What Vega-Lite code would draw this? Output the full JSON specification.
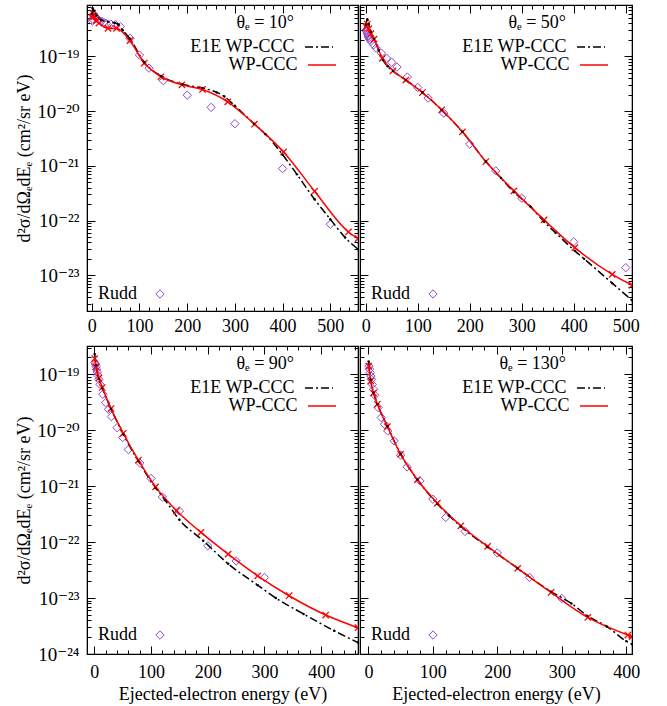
{
  "$schema": "https://vega.github.io/schema/vega-lite/v6.json",
  "padding": {"left": 15, "top": -3, "right": 0, "bottom": 0},
  "config": {
    "font": "Liberation Serif, DejaVu Serif",
    "view": {"stroke": "black", "strokeWidth": 1.2},
    "axis": {"labelFont": "Liberation Serif, DejaVu Serif", "titleFont": "Liberation Serif, DejaVu Serif", "labelFontSize": 18, "titleFontSize": 18, "titleFontWeight": "normal", "domainColor": "black", "tickColor": "black", "labelColor": "black", "titleColor": "black", "grid": false, "labelFlush": false, "labelOverlap": false, "labelBound": false, "tickWidth": 1},
    "axisLeft": {"labelFontSize": 19},
    "legend": {"labelFont": "Liberation Serif, DejaVu Serif", "titleFont": "Liberation Serif, DejaVu Serif", "labelFontSize": 18, "titleFontSize": 18, "titleFontWeight": "normal", "labelColor": "black", "titleColor": "black", "padding": 0}
  },
  "datasets": {
    "p10": [
      {"series": "Rudd", "E": 1, "v": 4.4e-19}, {"series": "Rudd", "E": 2, "v": 4.8e-19}, {"series": "Rudd", "E": 3, "v": 5.6e-19}, {"series": "Rudd", "E": 4, "v": 5.9e-19}, {"series": "Rudd", "E": 6, "v": 5.5e-19}, {"series": "Rudd", "E": 8, "v": 5.2e-19}, {"series": "Rudd", "E": 10, "v": 5.0e-19}, {"series": "Rudd", "E": 15, "v": 4.6e-19}, {"series": "Rudd", "E": 20, "v": 4.4e-19}, {"series": "Rudd", "E": 25, "v": 4.2e-19}, {"series": "Rudd", "E": 30, "v": 4.0e-19}, {"series": "Rudd", "E": 40, "v": 3.9e-19}, {"series": "Rudd", "E": 50, "v": 3.8e-19}, {"series": "Rudd", "E": 60, "v": 3.5e-19}, {"series": "Rudd", "E": 80, "v": 2.15e-19}, {"series": "Rudd", "E": 100, "v": 1.06e-19}, {"series": "Rudd", "E": 120, "v": 6.1e-20}, {"series": "Rudd", "E": 150, "v": 3.6e-20}, {"series": "Rudd", "E": 200, "v": 1.96e-20}, {"series": "Rudd", "E": 250, "v": 1.17e-20}, {"series": "Rudd", "E": 300, "v": 5.9e-21}, {"series": "Rudd", "E": 400, "v": 8.9e-22}, {"series": "Rudd", "E": 500, "v": 8.6e-23},
      {"series": "WP-CCC", "E": 0.5, "v": 5.2e-19}, {"series": "WP-CCC", "E": 2, "v": 6.2e-19}, {"series": "WP-CCC", "E": 5, "v": 5.4e-19}, {"series": "WP-CCC", "E": 10, "v": 4.5e-19}, {"series": "WP-CCC", "E": 15, "v": 4.07e-19}, {"series": "WP-CCC", "E": 34, "v": 3.25e-19}, {"series": "WP-CCC", "E": 52, "v": 3.25e-19}, {"series": "WP-CCC", "E": 80, "v": 1.94e-19}, {"series": "WP-CCC", "E": 110, "v": 7.55e-20}, {"series": "WP-CCC", "E": 145, "v": 4.25e-20}, {"series": "WP-CCC", "E": 189, "v": 3.03e-20}, {"series": "WP-CCC", "E": 232, "v": 2.49e-20}, {"series": "WP-CCC", "E": 285, "v": 1.48e-20}, {"series": "WP-CCC", "E": 341, "v": 5.78e-21}, {"series": "WP-CCC", "E": 402, "v": 1.8e-21}, {"series": "WP-CCC", "E": 467, "v": 3.44e-22}, {"series": "WP-CCC", "E": 538, "v": 6.2e-23}, {"series": "WP-CCC", "E": 558, "v": 4.7e-23},
      {"series": "E1E WP-CCC", "E": 0.5, "v": 6.0e-19}, {"series": "E1E WP-CCC", "E": 2, "v": 7.6e-19}, {"series": "E1E WP-CCC", "E": 5, "v": 6.8e-19}, {"series": "E1E WP-CCC", "E": 10, "v": 5.6e-19}, {"series": "E1E WP-CCC", "E": 20, "v": 4.6e-19}, {"series": "E1E WP-CCC", "E": 34, "v": 4.3e-19}, {"series": "E1E WP-CCC", "E": 48, "v": 4.1e-19}, {"series": "E1E WP-CCC", "E": 56, "v": 3.8e-19}, {"series": "E1E WP-CCC", "E": 65, "v": 3.0e-19}, {"series": "E1E WP-CCC", "E": 80, "v": 2.1e-19}, {"series": "E1E WP-CCC", "E": 110, "v": 7.8e-20}, {"series": "E1E WP-CCC", "E": 145, "v": 4.4e-20}, {"series": "E1E WP-CCC", "E": 190, "v": 3.1e-20}, {"series": "E1E WP-CCC", "E": 232, "v": 2.65e-20}, {"series": "E1E WP-CCC", "E": 262, "v": 2.2e-20}, {"series": "E1E WP-CCC", "E": 278, "v": 1.85e-20}, {"series": "E1E WP-CCC", "E": 300, "v": 1.25e-20}, {"series": "E1E WP-CCC", "E": 340, "v": 5.9e-21}, {"series": "E1E WP-CCC", "E": 364, "v": 3.8e-21}, {"series": "E1E WP-CCC", "E": 400, "v": 1.6e-21}, {"series": "E1E WP-CCC", "E": 430, "v": 7.0e-22}, {"series": "E1E WP-CCC", "E": 467, "v": 2.45e-22}, {"series": "E1E WP-CCC", "E": 500, "v": 1.06e-22}, {"series": "E1E WP-CCC", "E": 531, "v": 4.9e-23}, {"series": "E1E WP-CCC", "E": 558, "v": 3.0e-23}
    ],
    "p50": [
      {"series": "Rudd", "E": 1, "v": 3.0e-19}, {"series": "Rudd", "E": 2, "v": 2.85e-19}, {"series": "Rudd", "E": 3, "v": 2.7e-19}, {"series": "Rudd", "E": 4, "v": 2.5e-19}, {"series": "Rudd", "E": 5, "v": 2.35e-19}, {"series": "Rudd", "E": 6, "v": 2.2e-19}, {"series": "Rudd", "E": 8, "v": 2.05e-19}, {"series": "Rudd", "E": 10, "v": 1.88e-19}, {"series": "Rudd", "E": 15, "v": 1.63e-19}, {"series": "Rudd", "E": 20, "v": 1.42e-19}, {"series": "Rudd", "E": 30, "v": 1.15e-19}, {"series": "Rudd", "E": 40, "v": 9.3e-20}, {"series": "Rudd", "E": 50, "v": 7.8e-20}, {"series": "Rudd", "E": 60, "v": 6.4e-20}, {"series": "Rudd", "E": 80, "v": 4.2e-20}, {"series": "Rudd", "E": 100, "v": 2.7e-20}, {"series": "Rudd", "E": 120, "v": 1.73e-20}, {"series": "Rudd", "E": 150, "v": 9.2e-21}, {"series": "Rudd", "E": 200, "v": 2.5e-21}, {"series": "Rudd", "E": 250, "v": 8.1e-22}, {"series": "Rudd", "E": 300, "v": 2.57e-22}, {"series": "Rudd", "E": 400, "v": 4.1e-23}, {"series": "Rudd", "E": 500, "v": 1.38e-23},
      {"series": "WP-CCC", "E": 0.5, "v": 3.5e-19}, {"series": "WP-CCC", "E": 3, "v": 3.9e-19}, {"series": "WP-CCC", "E": 6, "v": 3.2e-19}, {"series": "WP-CCC", "E": 10, "v": 2.6e-19}, {"series": "WP-CCC", "E": 16, "v": 2.07e-19}, {"series": "WP-CCC", "E": 32, "v": 9.2e-20}, {"series": "WP-CCC", "E": 52.6, "v": 5.47e-20}, {"series": "WP-CCC", "E": 77, "v": 3.69e-20}, {"series": "WP-CCC", "E": 109, "v": 2.19e-20}, {"series": "WP-CCC", "E": 146, "v": 1.06e-20}, {"series": "WP-CCC", "E": 186, "v": 4.18e-21}, {"series": "WP-CCC", "E": 231, "v": 1.2e-21}, {"series": "WP-CCC", "E": 285, "v": 3.49e-22}, {"series": "WP-CCC", "E": 343, "v": 1.03e-22}, {"series": "WP-CCC", "E": 402, "v": 3.2e-23}, {"series": "WP-CCC", "E": 474, "v": 1.04e-23}, {"series": "WP-CCC", "E": 512, "v": 6.6e-24},
      {"series": "E1E WP-CCC", "E": 0.5, "v": 3.8e-19}, {"series": "E1E WP-CCC", "E": 3, "v": 4.8e-19}, {"series": "E1E WP-CCC", "E": 6, "v": 3.9e-19}, {"series": "E1E WP-CCC", "E": 10, "v": 2.8e-19}, {"series": "E1E WP-CCC", "E": 16, "v": 2.1e-19}, {"series": "E1E WP-CCC", "E": 25, "v": 1.3e-19}, {"series": "E1E WP-CCC", "E": 33, "v": 8.6e-20}, {"series": "E1E WP-CCC", "E": 42, "v": 6.6e-20}, {"series": "E1E WP-CCC", "E": 52.6, "v": 5.4e-20}, {"series": "E1E WP-CCC", "E": 77, "v": 3.7e-20}, {"series": "E1E WP-CCC", "E": 109, "v": 2.2e-20}, {"series": "E1E WP-CCC", "E": 146, "v": 1.05e-20}, {"series": "E1E WP-CCC", "E": 186, "v": 4.2e-21}, {"series": "E1E WP-CCC", "E": 231, "v": 1.2e-21}, {"series": "E1E WP-CCC", "E": 260, "v": 6.0e-22}, {"series": "E1E WP-CCC", "E": 285, "v": 3.3e-22}, {"series": "E1E WP-CCC", "E": 317, "v": 1.8e-22}, {"series": "E1E WP-CCC", "E": 343, "v": 9.5e-23}, {"series": "E1E WP-CCC", "E": 365, "v": 6.0e-23}, {"series": "E1E WP-CCC", "E": 402, "v": 2.8e-23}, {"series": "E1E WP-CCC", "E": 420, "v": 2.0e-23}, {"series": "E1E WP-CCC", "E": 474, "v": 7.2e-24}, {"series": "E1E WP-CCC", "E": 512, "v": 3.5e-24}
    ],
    "p90": [
      {"series": "Rudd", "E": 1, "v": 1.6e-19}, {"series": "Rudd", "E": 2, "v": 1.51e-19}, {"series": "Rudd", "E": 3, "v": 1.37e-19}, {"series": "Rudd", "E": 4, "v": 1.23e-19}, {"series": "Rudd", "E": 5, "v": 1.1e-19}, {"series": "Rudd", "E": 6, "v": 9.6e-20}, {"series": "Rudd", "E": 8, "v": 8.1e-20}, {"series": "Rudd", "E": 10, "v": 6.6e-20}, {"series": "Rudd", "E": 15, "v": 4.4e-20}, {"series": "Rudd", "E": 20, "v": 3.1e-20}, {"series": "Rudd", "E": 25, "v": 2.37e-20}, {"series": "Rudd", "E": 30, "v": 1.75e-20}, {"series": "Rudd", "E": 40, "v": 1.11e-20}, {"series": "Rudd", "E": 50, "v": 7.4e-21}, {"series": "Rudd", "E": 60, "v": 4.5e-21}, {"series": "Rudd", "E": 80, "v": 2.6e-21}, {"series": "Rudd", "E": 100, "v": 1.37e-21}, {"series": "Rudd", "E": 120, "v": 6.4e-22}, {"series": "Rudd", "E": 150, "v": 3.6e-22}, {"series": "Rudd", "E": 200, "v": 8.6e-23}, {"series": "Rudd", "E": 250, "v": 4.6e-23}, {"series": "Rudd", "E": 300, "v": 2.33e-23},
      {"series": "WP-CCC", "E": 0.5, "v": 1.9e-19}, {"series": "WP-CCC", "E": 3, "v": 1.35e-19}, {"series": "WP-CCC", "E": 8, "v": 8.6e-20}, {"series": "WP-CCC", "E": 14, "v": 5.8e-20}, {"series": "WP-CCC", "E": 29.4, "v": 2.44e-20}, {"series": "WP-CCC", "E": 51, "v": 8.8e-21}, {"series": "WP-CCC", "E": 77.6, "v": 2.91e-21}, {"series": "WP-CCC", "E": 108, "v": 9.7e-22}, {"series": "WP-CCC", "E": 145, "v": 3.63e-22}, {"series": "WP-CCC", "E": 188, "v": 1.49e-22}, {"series": "WP-CCC", "E": 236, "v": 6.1e-23}, {"series": "WP-CCC", "E": 288, "v": 2.5e-23}, {"series": "WP-CCC", "E": 343.5, "v": 1.1e-23}, {"series": "WP-CCC", "E": 408, "v": 4.97e-24}, {"series": "WP-CCC", "E": 465, "v": 2.95e-24},
      {"series": "E1E WP-CCC", "E": 0.5, "v": 2.3e-19}, {"series": "E1E WP-CCC", "E": 3, "v": 1.45e-19}, {"series": "E1E WP-CCC", "E": 8, "v": 8.2e-20}, {"series": "E1E WP-CCC", "E": 14, "v": 5.6e-20}, {"series": "E1E WP-CCC", "E": 29.4, "v": 2.4e-20}, {"series": "E1E WP-CCC", "E": 51, "v": 8.5e-21}, {"series": "E1E WP-CCC", "E": 77.6, "v": 2.8e-21}, {"series": "E1E WP-CCC", "E": 108, "v": 9.3e-22}, {"series": "E1E WP-CCC", "E": 125, "v": 5.6e-22}, {"series": "E1E WP-CCC", "E": 150, "v": 2.5e-22}, {"series": "E1E WP-CCC", "E": 192, "v": 1.06e-22}, {"series": "E1E WP-CCC", "E": 236, "v": 4.1e-23}, {"series": "E1E WP-CCC", "E": 288, "v": 1.7e-23}, {"series": "E1E WP-CCC", "E": 320, "v": 1.0e-23}, {"series": "E1E WP-CCC", "E": 369, "v": 5.2e-24}, {"series": "E1E WP-CCC", "E": 423, "v": 2.6e-24}, {"series": "E1E WP-CCC", "E": 465, "v": 1.6e-24}
    ],
    "p130": [
      {"series": "Rudd", "E": 1, "v": 1.4e-19}, {"series": "Rudd", "E": 2, "v": 1.23e-19}, {"series": "Rudd", "E": 3, "v": 1.07e-19}, {"series": "Rudd", "E": 4, "v": 9.3e-20}, {"series": "Rudd", "E": 5, "v": 8.1e-20}, {"series": "Rudd", "E": 6, "v": 6.6e-20}, {"series": "Rudd", "E": 8, "v": 5.4e-20}, {"series": "Rudd", "E": 10, "v": 4.2e-20}, {"series": "Rudd", "E": 15, "v": 2.54e-20}, {"series": "Rudd", "E": 20, "v": 1.68e-20}, {"series": "Rudd", "E": 25, "v": 1.28e-20}, {"series": "Rudd", "E": 30, "v": 9.7e-21}, {"series": "Rudd", "E": 40, "v": 6.45e-21}, {"series": "Rudd", "E": 50, "v": 3.58e-21}, {"series": "Rudd", "E": 60, "v": 2.21e-21}, {"series": "Rudd", "E": 80, "v": 1.24e-21}, {"series": "Rudd", "E": 100, "v": 5.86e-22}, {"series": "Rudd", "E": 120, "v": 2.76e-22}, {"series": "Rudd", "E": 150, "v": 1.55e-22}, {"series": "Rudd", "E": 200, "v": 6.4e-23}, {"series": "Rudd", "E": 250, "v": 2.34e-23}, {"series": "Rudd", "E": 300, "v": 9.86e-24},
      {"series": "WP-CCC", "E": 0.5, "v": 1.4e-19}, {"series": "WP-CCC", "E": 3.6, "v": 7.6e-20}, {"series": "WP-CCC", "E": 8, "v": 4.6e-20}, {"series": "WP-CCC", "E": 14, "v": 2.91e-20}, {"series": "WP-CCC", "E": 29.5, "v": 1.16e-20}, {"series": "WP-CCC", "E": 50, "v": 3.73e-21}, {"series": "WP-CCC", "E": 76, "v": 1.3e-21}, {"series": "WP-CCC", "E": 107, "v": 4.97e-22}, {"series": "WP-CCC", "E": 143.5, "v": 1.96e-22}, {"series": "WP-CCC", "E": 185, "v": 8.4e-23}, {"series": "WP-CCC", "E": 231.6, "v": 3.39e-23}, {"series": "WP-CCC", "E": 283.4, "v": 1.26e-23}, {"series": "WP-CCC", "E": 340.4, "v": 4.5e-24}, {"series": "WP-CCC", "E": 402.6, "v": 2.18e-24}, {"series": "WP-CCC", "E": 409, "v": 2.05e-24},
      {"series": "E1E WP-CCC", "E": 0.5, "v": 1.7e-19}, {"series": "E1E WP-CCC", "E": 3.6, "v": 8.0e-20}, {"series": "E1E WP-CCC", "E": 8, "v": 4.7e-20}, {"series": "E1E WP-CCC", "E": 14, "v": 2.95e-20}, {"series": "E1E WP-CCC", "E": 29.5, "v": 1.18e-20}, {"series": "E1E WP-CCC", "E": 50, "v": 3.75e-21}, {"series": "E1E WP-CCC", "E": 76, "v": 1.32e-21}, {"series": "E1E WP-CCC", "E": 107, "v": 4.8e-22}, {"series": "E1E WP-CCC", "E": 125, "v": 3.0e-22}, {"series": "E1E WP-CCC", "E": 143.5, "v": 1.9e-22}, {"series": "E1E WP-CCC", "E": 185, "v": 8.2e-23}, {"series": "E1E WP-CCC", "E": 231.6, "v": 3.4e-23}, {"series": "E1E WP-CCC", "E": 283.4, "v": 1.3e-23}, {"series": "E1E WP-CCC", "E": 315, "v": 8.0e-24}, {"series": "E1E WP-CCC", "E": 340, "v": 4.8e-24}, {"series": "E1E WP-CCC", "E": 370, "v": 3.1e-24}, {"series": "E1E WP-CCC", "E": 400, "v": 1.7e-24}, {"series": "E1E WP-CCC", "E": 409, "v": 1.5e-24}
    ]
  },
  "resolve": {"scale": {"x": "independent", "y": "independent", "color": "independent", "strokeDash": "independent", "shape": "independent"}, "axis": {"x": "independent", "y": "independent"}, "legend": {"color": "independent", "strokeDash": "independent", "shape": "independent"}},
  "spacing": -3,
  "vconcat": [
    {
      "spacing": -2,
      "resolve": {"scale": {"x": "independent", "y": "independent", "color": "independent", "strokeDash": "independent", "shape": "independent"}, "axis": {"x": "independent", "y": "independent"}, "legend": {"color": "independent", "strokeDash": "independent", "shape": "independent"}},
      "hconcat": [
        {
          "width": 271, "height": 306,
          "data": {"name": "p10"},
          "resolve": {"axis": {"x": "independent", "y": "independent"}},
          "layer": [
            {
              "transform": [{"filter": "datum.series == 'Rudd'"}],
              "mark": {"type": "point", "shape": "diamond", "filled": false, "size": 70, "strokeWidth": 1, "color": "#9048c8", "opacity": 1},
              "encoding": {
                "x": {"field": "E", "type": "quantitative", "scale": {"domain": [-10, 558], "nice": false, "zero": false},
                  "axis": {"orient": "bottom", "title": null, "values": [0,20,40,60,80,100,120,140,160,180,200,220,240,260,280,300,320,340,360,380,400,420,440,460,480,500,520,540], "format": "d", "labelExpr": "datum.value % 100 == 0 ? datum.label : ''", "tickSize": {"condition": {"test": "datum.value % 100 == 0", "value": -8}, "value": -4}, "labelPadding": 14}},
                "y": {"field": "v", "type": "quantitative", "scale": {"type": "log", "domain": [2.23e-24, 8.7e-19], "nice": false},
                  "axis": {"orient": "left", "title": "d²σ/dΩₑdEₑ (cm²/sr eV)", "values": [3e-24,4e-24,5e-24,6e-24,7e-24,8e-24,9e-24,1e-23,2e-23,3e-23,4e-23,5e-23,6e-23,7e-23,8e-23,9e-23,1e-22,2e-22,3e-22,4e-22,5e-22,6e-22,7e-22,8e-22,9e-22,1e-21,2e-21,3e-21,4e-21,5e-21,6e-21,7e-21,8e-21,9e-21,1e-20,2e-20,3e-20,4e-20,5e-20,6e-20,7e-20,8e-20,9e-20,1e-19,2e-19,3e-19,4e-19,5e-19,6e-19,7e-19,8e-19],
                    "labelExpr": "abs(log(datum.value)/LN10-round(log(datum.value)/LN10))>0.001 ? '' : round(log(datum.value)/LN10)==-19 ? '10⁻¹⁹' : round(log(datum.value)/LN10)==-20 ? '10⁻²⁰' : round(log(datum.value)/LN10)==-21 ? '10⁻²¹' : round(log(datum.value)/LN10)==-22 ? '10⁻²²' : round(log(datum.value)/LN10)==-23 ? '10⁻²³' : '10⁻²⁴'",
                    "tickSize": {"condition": {"test": "abs(log(datum.value)/LN10-round(log(datum.value)/LN10))<0.001", "value": -8}, "value": -4}, "labelPadding": 16, "titlePadding": 3}},
                "shape": {"field": "series", "type": "nominal", "scale": {"domain": ["Rudd"], "range": ["diamond"]},
                  "legend": {"title": "Rudd", "orient": "none", "legendX": 11, "legendY": 280, "titleOrient": "left", "labelExpr": "''", "symbolType": "diamond", "symbolSize": 70, "symbolStrokeColor": "#9048c8", "symbolFillColor": "transparent", "symbolStrokeWidth": 1, "titlePadding": 13}}
              }
            },
            {
              "transform": [{"filter": "datum.series == 'E1E WP-CCC'"}],
              "mark": {"type": "line", "interpolate": "monotone", "clip": true, "strokeWidth": 1.5, "color": "black"},
              "encoding": {
                "x": {"field": "E", "type": "quantitative", "axis": {"orient": "top", "title": null, "labels": false, "values": [0,20,40,60,80,100,120,140,160,180,200,220,240,260,280,300,320,340,360,380,400,420,440,460,480,500,520,540], "tickSize": {"condition": {"test": "datum.value % 100 == 0", "value": -8}, "value": -4}}},
                "y": {"field": "v", "type": "quantitative", "axis": {"orient": "right", "title": null, "labels": false, "values": [3e-24,4e-24,5e-24,6e-24,7e-24,8e-24,9e-24,1e-23,2e-23,3e-23,4e-23,5e-23,6e-23,7e-23,8e-23,9e-23,1e-22,2e-22,3e-22,4e-22,5e-22,6e-22,7e-22,8e-22,9e-22,1e-21,2e-21,3e-21,4e-21,5e-21,6e-21,7e-21,8e-21,9e-21,1e-20,2e-20,3e-20,4e-20,5e-20,6e-20,7e-20,8e-20,9e-20,1e-19,2e-19,3e-19,4e-19,5e-19,6e-19,7e-19,8e-19], "tickSize": {"condition": {"test": "abs(log(datum.value)/LN10-round(log(datum.value)/LN10))<0.001", "value": -8}, "value": -4}}},
                "strokeDash": {"field": "series", "type": "nominal", "scale": {"domain": ["E1E WP-CCC"], "range": [[8, 3, 2, 3]]},
                  "legend": {"title": "θₑ = 10°", "orient": "none", "legendX": 149, "legendY": 9, "labelAlign": "right", "labelOffset": -39.5, "symbolOffset": 10, "symbolType": "stroke", "symbolSize": 784, "symbolStrokeWidth": 1.5, "symbolStrokeColor": "black", "titleAlign": "right", "titleAnchor": "start", "titlePadding": 0}}
              }
            },
            {
              "transform": [{"filter": "datum.series == 'WP-CCC'"}],
              "mark": {"type": "line", "interpolate": "monotone", "clip": true, "strokeWidth": 1.5},
              "encoding": {
                "x": {"field": "E", "type": "quantitative", "axis": null},
                "y": {"field": "v", "type": "quantitative", "axis": null},
                "color": {"field": "series", "type": "nominal", "scale": {"domain": ["WP-CCC"], "range": ["red"]},
                  "legend": {"title": null, "orient": "none", "legendX": 210, "legendY": 45, "labelAlign": "right", "labelOffset": -39.5, "symbolOffset": 10, "symbolType": "stroke", "symbolSize": 784, "symbolStrokeWidth": 1.5}}
              }
            },
            {
              "transform": [{"filter": "datum.series == 'WP-CCC'"}],
              "mark": {"type": "point", "shape": "M-1,-1L1,1M-1,1L1,-1", "filled": false, "size": 40, "strokeWidth": 1.3, "color": "red", "opacity": 1, "clip": true},
              "encoding": {"x": {"field": "E", "type": "quantitative", "axis": null}, "y": {"field": "v", "type": "quantitative", "axis": null}}
            },
            {
              "transform": [{"filter": "datum.series == 'E1E WP-CCC'"}],
              "mark": {"type": "point", "shape": "circle", "filled": true, "size": 6, "color": "black", "opacity": 1, "clip": true},
              "encoding": {"x": {"field": "E", "type": "quantitative", "axis": null}, "y": {"field": "v", "type": "quantitative", "axis": null}}
            }
          ]
        },
        {
          "width": 272, "height": 306,
          "data": {"name": "p50"},
          "resolve": {"axis": {"x": "independent", "y": "independent"}},
          "layer": [
            {
              "transform": [{"filter": "datum.series == 'Rudd'"}],
              "mark": {"type": "point", "shape": "diamond", "filled": false, "size": 70, "strokeWidth": 1, "color": "#9048c8", "opacity": 1},
              "encoding": {
                "x": {"field": "E", "type": "quantitative", "scale": {"domain": [-11, 512], "nice": false, "zero": false},
                  "axis": {"orient": "bottom", "title": null, "values": [0,20,40,60,80,100,120,140,160,180,200,220,240,260,280,300,320,340,360,380,400,420,440,460,480,500], "format": "d", "labelExpr": "datum.value % 100 == 0 ? datum.label : ''", "tickSize": {"condition": {"test": "datum.value % 100 == 0", "value": -8}, "value": -4}, "labelPadding": 14}},
                "y": {"field": "v", "type": "quantitative", "scale": {"type": "log", "domain": [2.23e-24, 8.7e-19], "nice": false},
                  "axis": {"orient": "left", "title": null, "labels": false, "values": [3e-24,4e-24,5e-24,6e-24,7e-24,8e-24,9e-24,1e-23,2e-23,3e-23,4e-23,5e-23,6e-23,7e-23,8e-23,9e-23,1e-22,2e-22,3e-22,4e-22,5e-22,6e-22,7e-22,8e-22,9e-22,1e-21,2e-21,3e-21,4e-21,5e-21,6e-21,7e-21,8e-21,9e-21,1e-20,2e-20,3e-20,4e-20,5e-20,6e-20,7e-20,8e-20,9e-20,1e-19,2e-19,3e-19,4e-19,5e-19,6e-19,7e-19,8e-19],
                    "tickSize": {"condition": {"test": "abs(log(datum.value)/LN10-round(log(datum.value)/LN10))<0.001", "value": -8}, "value": -4}}},
                "shape": {"field": "series", "type": "nominal", "scale": {"domain": ["Rudd"], "range": ["diamond"]},
                  "legend": {"title": "Rudd", "orient": "none", "legendX": 11, "legendY": 280, "titleOrient": "left", "labelExpr": "''", "symbolType": "diamond", "symbolSize": 70, "symbolStrokeColor": "#9048c8", "symbolFillColor": "transparent", "symbolStrokeWidth": 1, "titlePadding": 13}}
              }
            },
            {
              "transform": [{"filter": "datum.series == 'E1E WP-CCC'"}],
              "mark": {"type": "line", "interpolate": "monotone", "clip": true, "strokeWidth": 1.5, "color": "black"},
              "encoding": {
                "x": {"field": "E", "type": "quantitative", "axis": {"orient": "top", "title": null, "labels": false, "values": [0,20,40,60,80,100,120,140,160,180,200,220,240,260,280,300,320,340,360,380,400,420,440,460,480,500], "tickSize": {"condition": {"test": "datum.value % 100 == 0", "value": -8}, "value": -4}}},
                "y": {"field": "v", "type": "quantitative", "axis": {"orient": "right", "title": null, "labels": false, "values": [3e-24,4e-24,5e-24,6e-24,7e-24,8e-24,9e-24,1e-23,2e-23,3e-23,4e-23,5e-23,6e-23,7e-23,8e-23,9e-23,1e-22,2e-22,3e-22,4e-22,5e-22,6e-22,7e-22,8e-22,9e-22,1e-21,2e-21,3e-21,4e-21,5e-21,6e-21,7e-21,8e-21,9e-21,1e-20,2e-20,3e-20,4e-20,5e-20,6e-20,7e-20,8e-20,9e-20,1e-19,2e-19,3e-19,4e-19,5e-19,6e-19,7e-19,8e-19], "tickSize": {"condition": {"test": "abs(log(datum.value)/LN10-round(log(datum.value)/LN10))<0.001", "value": -8}, "value": -4}}},
                "strokeDash": {"field": "series", "type": "nominal", "scale": {"domain": ["E1E WP-CCC"], "range": [[8, 3, 2, 3]]},
                  "legend": {"title": "θₑ = 50°", "orient": "none", "legendX": 148, "legendY": 9, "labelAlign": "right", "labelOffset": -39.5, "symbolOffset": 10, "symbolType": "stroke", "symbolSize": 784, "symbolStrokeWidth": 1.5, "symbolStrokeColor": "black", "titleAlign": "right", "titleAnchor": "start", "titlePadding": 0}}
              }
            },
            {
              "transform": [{"filter": "datum.series == 'WP-CCC'"}],
              "mark": {"type": "line", "interpolate": "monotone", "clip": true, "strokeWidth": 1.5},
              "encoding": {
                "x": {"field": "E", "type": "quantitative", "axis": null},
                "y": {"field": "v", "type": "quantitative", "axis": null},
                "color": {"field": "series", "type": "nominal", "scale": {"domain": ["WP-CCC"], "range": ["red"]},
                  "legend": {"title": null, "orient": "none", "legendX": 209, "legendY": 45, "labelAlign": "right", "labelOffset": -39.5, "symbolOffset": 10, "symbolType": "stroke", "symbolSize": 784, "symbolStrokeWidth": 1.5}}
              }
            },
            {
              "transform": [{"filter": "datum.series == 'WP-CCC'"}],
              "mark": {"type": "point", "shape": "M-1,-1L1,1M-1,1L1,-1", "filled": false, "size": 40, "strokeWidth": 1.3, "color": "red", "opacity": 1, "clip": true},
              "encoding": {"x": {"field": "E", "type": "quantitative", "axis": null}, "y": {"field": "v", "type": "quantitative", "axis": null}}
            },
            {
              "transform": [{"filter": "datum.series == 'E1E WP-CCC'"}],
              "mark": {"type": "point", "shape": "circle", "filled": true, "size": 6, "color": "black", "opacity": 1, "clip": true},
              "encoding": {"x": {"field": "E", "type": "quantitative", "axis": null}, "y": {"field": "v", "type": "quantitative", "axis": null}}
            }
          ]
        }
      ]
    },
    {
      "spacing": -2,
      "resolve": {"scale": {"x": "independent", "y": "independent", "color": "independent", "strokeDash": "independent", "shape": "independent"}, "axis": {"x": "independent", "y": "independent"}, "legend": {"color": "independent", "strokeDash": "independent", "shape": "independent"}},
      "hconcat": [
        {
          "width": 271, "height": 308,
          "data": {"name": "p90"},
          "resolve": {"axis": {"x": "independent", "y": "independent"}},
          "layer": [
            {
              "transform": [{"filter": "datum.series == 'Rudd'"}],
              "mark": {"type": "point", "shape": "diamond", "filled": false, "size": 70, "strokeWidth": 1, "color": "#9048c8", "opacity": 1},
              "encoding": {
                "x": {"field": "E", "type": "quantitative", "scale": {"domain": [-13, 465], "nice": false, "zero": false},
                  "axis": {"orient": "bottom", "title": "Ejected-electron energy (eV)", "values": [0,20,40,60,80,100,120,140,160,180,200,220,240,260,280,300,320,340,360,380,400,420,440,460], "format": "d", "labelExpr": "datum.value % 100 == 0 ? datum.label : ''", "tickSize": {"condition": {"test": "datum.value % 100 == 0", "value": -8}, "value": -4}, "labelPadding": 17, "titlePadding": 0}},
                "y": {"field": "v", "type": "quantitative", "scale": {"type": "log", "domain": [1e-24, 3.2e-19], "nice": false},
                  "axis": {"orient": "left", "title": "d²σ/dΩₑdEₑ (cm²/sr eV)", "values": [1e-24,2e-24,3e-24,4e-24,5e-24,6e-24,7e-24,8e-24,9e-24,1e-23,2e-23,3e-23,4e-23,5e-23,6e-23,7e-23,8e-23,9e-23,1e-22,2e-22,3e-22,4e-22,5e-22,6e-22,7e-22,8e-22,9e-22,1e-21,2e-21,3e-21,4e-21,5e-21,6e-21,7e-21,8e-21,9e-21,1e-20,2e-20,3e-20,4e-20,5e-20,6e-20,7e-20,8e-20,9e-20,1e-19,2e-19,3e-19],
                    "labelExpr": "abs(log(datum.value)/LN10-round(log(datum.value)/LN10))>0.001 ? '' : round(log(datum.value)/LN10)==-19 ? '10⁻¹⁹' : round(log(datum.value)/LN10)==-20 ? '10⁻²⁰' : round(log(datum.value)/LN10)==-21 ? '10⁻²¹' : round(log(datum.value)/LN10)==-22 ? '10⁻²²' : round(log(datum.value)/LN10)==-23 ? '10⁻²³' : '10⁻²⁴'",
                    "tickSize": {"condition": {"test": "abs(log(datum.value)/LN10-round(log(datum.value)/LN10))<0.001", "value": -8}, "value": -4}, "labelPadding": 16, "titlePadding": 3}},
                "shape": {"field": "series", "type": "nominal", "scale": {"domain": ["Rudd"], "range": ["diamond"]},
                  "legend": {"title": "Rudd", "orient": "none", "legendX": 11, "legendY": 280, "titleOrient": "left", "labelExpr": "''", "symbolType": "diamond", "symbolSize": 70, "symbolStrokeColor": "#9048c8", "symbolFillColor": "transparent", "symbolStrokeWidth": 1, "titlePadding": 13}}
              }
            },
            {
              "transform": [{"filter": "datum.series == 'E1E WP-CCC'"}],
              "mark": {"type": "line", "interpolate": "monotone", "clip": true, "strokeWidth": 1.5, "color": "black"},
              "encoding": {
                "x": {"field": "E", "type": "quantitative", "axis": {"orient": "top", "title": null, "labels": false, "values": [0,20,40,60,80,100,120,140,160,180,200,220,240,260,280,300,320,340,360,380,400,420,440,460], "tickSize": {"condition": {"test": "datum.value % 100 == 0", "value": -8}, "value": -4}}},
                "y": {"field": "v", "type": "quantitative", "axis": {"orient": "right", "title": null, "labels": false, "values": [1e-24,2e-24,3e-24,4e-24,5e-24,6e-24,7e-24,8e-24,9e-24,1e-23,2e-23,3e-23,4e-23,5e-23,6e-23,7e-23,8e-23,9e-23,1e-22,2e-22,3e-22,4e-22,5e-22,6e-22,7e-22,8e-22,9e-22,1e-21,2e-21,3e-21,4e-21,5e-21,6e-21,7e-21,8e-21,9e-21,1e-20,2e-20,3e-20,4e-20,5e-20,6e-20,7e-20,8e-20,9e-20,1e-19,2e-19,3e-19], "tickSize": {"condition": {"test": "abs(log(datum.value)/LN10-round(log(datum.value)/LN10))<0.001", "value": -8}, "value": -4}}},
                "strokeDash": {"field": "series", "type": "nominal", "scale": {"domain": ["E1E WP-CCC"], "range": [[8, 3, 2, 3]]},
                  "legend": {"title": "θₑ = 90°", "orient": "none", "legendX": 149, "legendY": 9, "labelAlign": "right", "labelOffset": -39.5, "symbolOffset": 10, "symbolType": "stroke", "symbolSize": 784, "symbolStrokeWidth": 1.5, "symbolStrokeColor": "black", "titleAlign": "right", "titleAnchor": "start", "titlePadding": 0}}
              }
            },
            {
              "transform": [{"filter": "datum.series == 'WP-CCC'"}],
              "mark": {"type": "line", "interpolate": "monotone", "clip": true, "strokeWidth": 1.5},
              "encoding": {
                "x": {"field": "E", "type": "quantitative", "axis": null},
                "y": {"field": "v", "type": "quantitative", "axis": null},
                "color": {"field": "series", "type": "nominal", "scale": {"domain": ["WP-CCC"], "range": ["red"]},
                  "legend": {"title": null, "orient": "none", "legendX": 210, "legendY": 45, "labelAlign": "right", "labelOffset": -39.5, "symbolOffset": 10, "symbolType": "stroke", "symbolSize": 784, "symbolStrokeWidth": 1.5}}
              }
            },
            {
              "transform": [{"filter": "datum.series == 'WP-CCC'"}],
              "mark": {"type": "point", "shape": "M-1,-1L1,1M-1,1L1,-1", "filled": false, "size": 40, "strokeWidth": 1.3, "color": "red", "opacity": 1, "clip": true},
              "encoding": {"x": {"field": "E", "type": "quantitative", "axis": null}, "y": {"field": "v", "type": "quantitative", "axis": null}}
            },
            {
              "transform": [{"filter": "datum.series == 'E1E WP-CCC'"}],
              "mark": {"type": "point", "shape": "circle", "filled": true, "size": 6, "color": "black", "opacity": 1, "clip": true},
              "encoding": {"x": {"field": "E", "type": "quantitative", "axis": null}, "y": {"field": "v", "type": "quantitative", "axis": null}}
            }
          ]
        },
        {
          "width": 272, "height": 308,
          "data": {"name": "p130"},
          "resolve": {"axis": {"x": "independent", "y": "independent"}},
          "layer": [
            {
              "transform": [{"filter": "datum.series == 'Rudd'"}],
              "mark": {"type": "point", "shape": "diamond", "filled": false, "size": 70, "strokeWidth": 1, "color": "#9048c8", "opacity": 1},
              "encoding": {
                "x": {"field": "E", "type": "quantitative", "scale": {"domain": [-13, 409], "nice": false, "zero": false},
                  "axis": {"orient": "bottom", "title": "Ejected-electron energy (eV)", "values": [0,20,40,60,80,100,120,140,160,180,200,220,240,260,280,300,320,340,360,380,400], "format": "d", "labelExpr": "datum.value % 100 == 0 ? datum.label : ''", "tickSize": {"condition": {"test": "datum.value % 100 == 0", "value": -8}, "value": -4}, "labelPadding": 17, "titlePadding": 0}},
                "y": {"field": "v", "type": "quantitative", "scale": {"type": "log", "domain": [1e-24, 3.2e-19], "nice": false},
                  "axis": {"orient": "left", "title": null, "labels": false, "values": [1e-24,2e-24,3e-24,4e-24,5e-24,6e-24,7e-24,8e-24,9e-24,1e-23,2e-23,3e-23,4e-23,5e-23,6e-23,7e-23,8e-23,9e-23,1e-22,2e-22,3e-22,4e-22,5e-22,6e-22,7e-22,8e-22,9e-22,1e-21,2e-21,3e-21,4e-21,5e-21,6e-21,7e-21,8e-21,9e-21,1e-20,2e-20,3e-20,4e-20,5e-20,6e-20,7e-20,8e-20,9e-20,1e-19,2e-19,3e-19],
                    "tickSize": {"condition": {"test": "abs(log(datum.value)/LN10-round(log(datum.value)/LN10))<0.001", "value": -8}, "value": -4}}},
                "shape": {"field": "series", "type": "nominal", "scale": {"domain": ["Rudd"], "range": ["diamond"]},
                  "legend": {"title": "Rudd", "orient": "none", "legendX": 11, "legendY": 280, "titleOrient": "left", "labelExpr": "''", "symbolType": "diamond", "symbolSize": 70, "symbolStrokeColor": "#9048c8", "symbolFillColor": "transparent", "symbolStrokeWidth": 1, "titlePadding": 13}}
              }
            },
            {
              "transform": [{"filter": "datum.series == 'E1E WP-CCC'"}],
              "mark": {"type": "line", "interpolate": "monotone", "clip": true, "strokeWidth": 1.5, "color": "black"},
              "encoding": {
                "x": {"field": "E", "type": "quantitative", "axis": {"orient": "top", "title": null, "labels": false, "values": [0,20,40,60,80,100,120,140,160,180,200,220,240,260,280,300,320,340,360,380,400], "tickSize": {"condition": {"test": "datum.value % 100 == 0", "value": -8}, "value": -4}}},
                "y": {"field": "v", "type": "quantitative", "axis": {"orient": "right", "title": null, "labels": false, "values": [1e-24,2e-24,3e-24,4e-24,5e-24,6e-24,7e-24,8e-24,9e-24,1e-23,2e-23,3e-23,4e-23,5e-23,6e-23,7e-23,8e-23,9e-23,1e-22,2e-22,3e-22,4e-22,5e-22,6e-22,7e-22,8e-22,9e-22,1e-21,2e-21,3e-21,4e-21,5e-21,6e-21,7e-21,8e-21,9e-21,1e-20,2e-20,3e-20,4e-20,5e-20,6e-20,7e-20,8e-20,9e-20,1e-19,2e-19,3e-19], "tickSize": {"condition": {"test": "abs(log(datum.value)/LN10-round(log(datum.value)/LN10))<0.001", "value": -8}, "value": -4}}},
                "strokeDash": {"field": "series", "type": "nominal", "scale": {"domain": ["E1E WP-CCC"], "range": [[8, 3, 2, 3]]},
                  "legend": {"title": "θₑ = 130°", "orient": "none", "legendX": 139, "legendY": 9, "labelAlign": "right", "labelOffset": -39.5, "symbolOffset": 10, "symbolType": "stroke", "symbolSize": 784, "symbolStrokeWidth": 1.5, "symbolStrokeColor": "black", "titleAlign": "right", "titleAnchor": "start", "titlePadding": 0}}
              }
            },
            {
              "transform": [{"filter": "datum.series == 'WP-CCC'"}],
              "mark": {"type": "line", "interpolate": "monotone", "clip": true, "strokeWidth": 1.5},
              "encoding": {
                "x": {"field": "E", "type": "quantitative", "axis": null},
                "y": {"field": "v", "type": "quantitative", "axis": null},
                "color": {"field": "series", "type": "nominal", "scale": {"domain": ["WP-CCC"], "range": ["red"]},
                  "legend": {"title": null, "orient": "none", "legendX": 209, "legendY": 45, "labelAlign": "right", "labelOffset": -39.5, "symbolOffset": 10, "symbolType": "stroke", "symbolSize": 784, "symbolStrokeWidth": 1.5}}
              }
            },
            {
              "transform": [{"filter": "datum.series == 'WP-CCC'"}],
              "mark": {"type": "point", "shape": "M-1,-1L1,1M-1,1L1,-1", "filled": false, "size": 40, "strokeWidth": 1.3, "color": "red", "opacity": 1, "clip": true},
              "encoding": {"x": {"field": "E", "type": "quantitative", "axis": null}, "y": {"field": "v", "type": "quantitative", "axis": null}}
            },
            {
              "transform": [{"filter": "datum.series == 'E1E WP-CCC'"}],
              "mark": {"type": "point", "shape": "circle", "filled": true, "size": 6, "color": "black", "opacity": 1, "clip": true},
              "encoding": {"x": {"field": "E", "type": "quantitative", "axis": null}, "y": {"field": "v", "type": "quantitative", "axis": null}}
            }
          ]
        }
      ]
    }
  ]
}
